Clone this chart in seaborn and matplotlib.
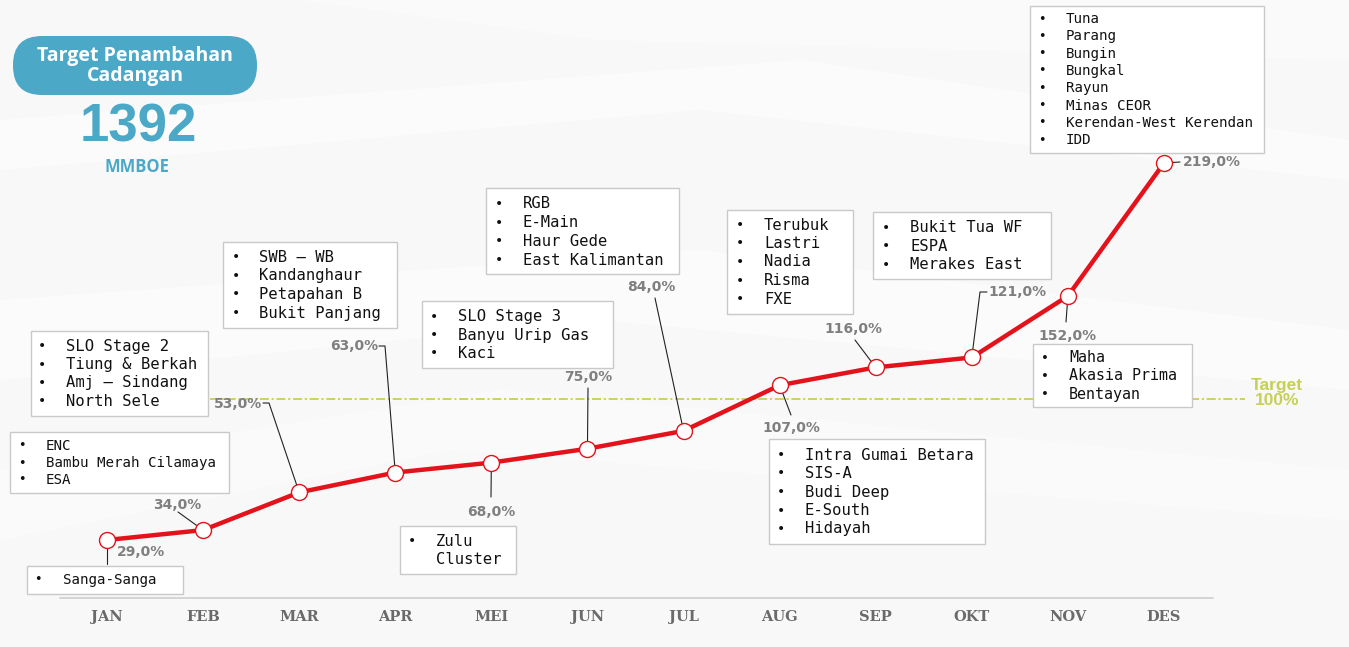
import numpy as np
import pandas as pd
import matplotlib
matplotlib.use("Agg")
import matplotlib.pyplot as plt
import seaborn as sns
from matplotlib.patches import Rectangle, FancyBboxPatch, Polygon
from matplotlib.lines import Line2D
from matplotlib.transforms import IdentityTransform, blended_transform_factory

# ---------------- data ----------------
months = ["JAN", "FEB", "MAR", "APR", "MEI", "JUN", "JUL", "AUG", "SEP", "OKT", "NOV", "DES"]
values = [29, 34, 53, 63, 68, 75, 84, 107, 116, 121, 152, 219]
target_value = 100
target_total = "1392"
target_unit = "MMBOE"
panel_title = "Target Penambahan\nCadangan"
target_label = "Target\n100%"

projects_jan = ["Sanga-Sanga"]
projects_feb = ["ENC", "Bambu Merah Cilamaya", "ESA"]
projects_mar = ["SLO Stage 2", "Tiung & Berkah", "Amj \u2013 Sindang", "North Sele"]
projects_apr = ["SWB \u2013 WB", "Kandanghaur", "Petapahan B", "Bukit Panjang"]
projects_mei = ["Zulu\nCluster"]
projects_jun = ["SLO Stage 3", "Banyu Urip Gas", "Kaci"]
projects_jul = ["RGB", "E-Main", "Haur Gede", "East Kalimantan"]
projects_aug = ["Intra Gumai Betara", "SIS-A", "Budi Deep", "E-South", "Hidayah"]
projects_sep = ["Terubuk", "Lastri", "Nadia", "Risma", "FXE"]
projects_okt = ["Bukit Tua WF", "ESPA", "Merakes East"]
projects_nov = ["Maha", "Akasia Prima", "Bentayan"]
projects_des = ["Tuna", "Parang", "Bungin", "Bungkal", "Rayun", "Minas CEOR",
                "Kerendan-West Kerendan", "IDD"]
projects = [projects_jan, projects_feb, projects_mar, projects_apr, projects_mei, projects_jun,
            projects_jul, projects_aug, projects_sep, projects_okt, projects_nov, projects_des]

# ---------------- layout (pixels, top-left origin) ----------------
W, H = 1349, 647
X0, DX = 107, 96.09          # pixel x of JAN and month spacing
Y29, PPU = 540, 1.984        # pixel y of 29% and pixels per percent

# box rect (x0, y0, x1, y1), bullet x, text x, first line y, line step, font size
boxes = [
    ((27, 566, 183, 594), 38, 63, 580, 18.0, 10.2),
    ((10, 432, 229, 493), 22, 46, 446, 17.0, 10.2),
    ((31, 331, 208, 416), 42, 66, 346, 18.5, 11.2),
    ((223, 242, 397, 328), 236, 259, 257, 18.7, 11.2),
    ((400, 526, 516, 574), 412, 436, 541, 18.5, 11.2),
    ((422, 301, 613, 368), 434, 458, 317, 18.2, 11.2),
    ((486, 188, 679, 274), 499, 523, 204, 18.7, 11.2),
    ((769, 439, 985, 544), 781, 805, 455, 18.5, 11.2),
    ((727, 210, 853, 314), 740, 764, 225, 18.5, 11.2),
    ((873, 212, 1051, 279), 886, 910, 228, 18.3, 11.2),
    ((1033, 344, 1192, 407), 1045, 1069, 358, 18.0, 10.8),
    ((1030, 6, 1264, 153), 1042, 1066, 19, 17.3, 10.2),
]
# value-label centre positions and leader waypoints (label side)
label_pos = [(141, 552), (177, 505), (238, 404), (354, 346), (491, 512), (588, 377),
             (651, 287), (791, 428), (853, 329), (1017, 292), (1067, 336), (1212, 162)]
leaders = [[(107, 564)], [(178, 512)], [(263, 403), (269, 403)], [(379, 346), (385, 346)],
           [(491, 497)], [(588, 388)], [(655, 298)], [(791, 415)], [(855, 340)],
           [(987, 292), (980, 292)], [(1066, 322)], [(1180, 162)]]

RED = "#e3121b"
BLUE = "#4ba8c6"
GREEN = "#c6d053"
GREY = "#7f7f7f"

sns.set_theme(style="white")
plt.rcParams["font.family"] = ["DejaVu Sans"]

fig = plt.figure(figsize=(W / 100, H / 100), dpi=100, facecolor="#f8f8f8")
ax = fig.add_axes([0, 0, 1, 1])
ax.set_facecolor("none")
ID = IdentityTransform()


def D(x, y):
    return (x, H - y)


# subtle background waves
for pts, a in [
    ([(0, 300), (700, 250), (1349, 330), (1349, 390), (600, 320), (0, 380)], 0.5),
    ([(0, 470), (500, 390), (1349, 470), (1349, 520), (450, 450), (0, 540)], 0.4),
    ([(0, 120), (800, 60), (1349, 140), (1349, 180), (700, 110), (0, 170)], 0.45),
    ([(300, 0), (1349, 0), (1349, 60), (600, 40)], 0.4),
]:
    ax.add_patch(Polygon([D(*p) for p in pts], closed=True, transform=ID,
                         facecolor="white", edgecolor="none", alpha=a, zorder=0))

# limits so data maps to the reference pixel grid
ax.set_xlim(-X0 / DX, (W - X0) / DX)
ax.set_ylim(29 - (H - Y29) / PPU, 29 + Y29 / PPU)
ax.axis("off")

df = pd.DataFrame({"idx": np.arange(len(months)), "month": months, "value": values})

# target line
ax.axhline(target_value, xmin=210 / W, xmax=1245 / W, color=GREEN, lw=1.3,
           ls=(0, (5, 1.5, 1.2, 1.5)), zorder=1)
ax.text(*D(1277, 393), target_label, transform=ID, ha="center", va="center",
        fontsize=12.5, fontweight="bold", color=GREEN, family="Liberation Sans",
        linespacing=1.0, zorder=7)

# baseline and month labels
ax.add_line(Line2D([60, 1213], [H - 598, H - 598], transform=ID, color="#cfcfcf", lw=1.2, zorder=1))
bt = blended_transform_factory(ax.transData, ID)
for i, m in enumerate(months):
    ax.text(i, H - 617, m, transform=bt, ha="center", va="center", fontsize=10.5,
            fontweight="bold", family="DejaVu Serif", color="#6a6a6a")

# project boxes
for (rect, bx, tx, y0, dy, fs), items in zip(boxes, projects):
    x0, yt, x1, yb = rect
    ax.add_patch(Rectangle(D(x0, yb), x1 - x0, yb - yt, transform=ID, facecolor="white",
                           edgecolor="#c9c9c9", lw=1.0, zorder=2))
    k = 0
    for item in items:
        for j, line in enumerate(item.split("\n")):
            y = y0 + k * dy
            if j == 0:
                ax.text(*D(bx, y), "\u2022", transform=ID, ha="center", va="center",
                        fontsize=fs * 0.9, color="#111111", zorder=3)
            ax.text(*D(tx, y), line, transform=ID, ha="left", va="center", fontsize=fs,
                    family="DejaVu Sans Mono", color="#111111", zorder=3)
            k += 1

# leaders (end at the data point; markers cover the end)
for i, (wps, v) in enumerate(zip(leaders, values)):
    px, py = ax.transData.transform((i, v))
    xs = [p[0] for p in wps] + [px]
    ys = [H - p[1] for p in wps] + [py]
    ax.add_line(Line2D(xs, ys, transform=ID, color="#222222", lw=0.8, zorder=4))

# main line
sns.lineplot(data=df, x="idx", y="value", ax=ax, color=RED, lw=3.2, marker="o",
             markersize=11.5, markerfacecolor="white", markeredgecolor=RED,
             markeredgewidth=1.0, zorder=5, legend=False)

# value labels
for (lx, ly), v in zip(label_pos, values):
    s = f"{v:.1f}%".replace(".", ",")
    ax.text(*D(lx, ly), s, transform=ID, ha="center", va="center", fontsize=10,
            fontweight="bold", color=GREY, zorder=7)

# left panel
ax.add_patch(FancyBboxPatch(D(13, 95), 244, 59, boxstyle="round,pad=0,rounding_size=29",
                            transform=ID, facecolor=BLUE, edgecolor="none", zorder=2))
ax.text(*D(135, 66), panel_title, transform=ID, ha="center", va="center", fontsize=14,
        fontweight="bold", family="Open Sans", color="white", linespacing=1.02, zorder=3)
ax.text(*D(138, 127), target_total, transform=ID, ha="center", va="center", fontsize=38,
        fontweight="bold", family="Liberation Sans", color=BLUE, zorder=3)
ax.text(*D(137, 167), target_unit, transform=ID, ha="center", va="center", fontsize=12,
        fontweight="bold", family="Open Sans", color=BLUE, zorder=3)

fig.savefig("out.png", dpi=100, facecolor=fig.get_facecolor())
